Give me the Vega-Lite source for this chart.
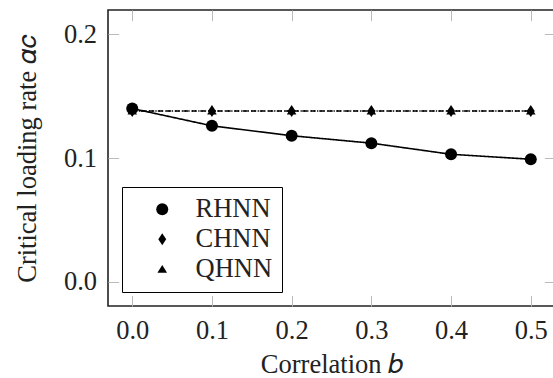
{
  "$schema": "https://vega.github.io/schema/vega-lite/v6.json",
  "width": 447,
  "height": 296,
  "autosize": {"type": "none"},
  "padding": {"left": 108, "top": 10, "right": 0, "bottom": 72},
  "background": "white",
  "data": {
    "values": [
      {"series": "QHNN", "b": 0.0, "alpha": 0.138},
      {"series": "QHNN", "b": 0.1, "alpha": 0.138},
      {"series": "QHNN", "b": 0.2, "alpha": 0.138},
      {"series": "QHNN", "b": 0.3, "alpha": 0.138},
      {"series": "QHNN", "b": 0.4, "alpha": 0.138},
      {"series": "QHNN", "b": 0.5, "alpha": 0.138},
      {"series": "CHNN", "b": 0.0, "alpha": 0.138},
      {"series": "CHNN", "b": 0.1, "alpha": 0.138},
      {"series": "CHNN", "b": 0.2, "alpha": 0.138},
      {"series": "CHNN", "b": 0.3, "alpha": 0.138},
      {"series": "CHNN", "b": 0.4, "alpha": 0.138},
      {"series": "CHNN", "b": 0.5, "alpha": 0.138},
      {"series": "RHNN", "b": 0.0, "alpha": 0.140},
      {"series": "RHNN", "b": 0.1, "alpha": 0.126},
      {"series": "RHNN", "b": 0.2, "alpha": 0.118},
      {"series": "RHNN", "b": 0.3, "alpha": 0.112},
      {"series": "RHNN", "b": 0.4, "alpha": 0.103},
      {"series": "RHNN", "b": 0.5, "alpha": 0.099}
    ]
  },
  "resolve": {"axis": {"x": "independent", "y": "independent"}},
  "layer": [
    {
      "mark": {"type": "line", "color": "black", "strokeWidth": 1.6},
      "encoding": {
        "x": {
          "field": "b", "type": "quantitative",
          "scale": {"domain": [-0.0304, 0.5304], "nice": false, "zero": false},
          "axis": {
            "orient": "bottom", "values": [0, 0.1, 0.2, 0.3, 0.4, 0.5], "format": ".1f",
            "title": "Correlation 𝑏", "grid": false, "domain": false,
            "tickSize": -10.6, "tickColor": "#bbbbbb", "tickWidth": 1,
            "labelFont": "Liberation Serif", "labelFontSize": 26.5, "labelColor": "#222", "labelPadding": 22,
            "titleFont": "Liberation Serif", "titleFontSize": 26.5, "titleFontWeight": "normal", "titleColor": "#222", "titlePadding": 8
          }
        },
        "y": {
          "field": "alpha", "type": "quantitative",
          "scale": {"domain": [-0.0196, 0.2196], "nice": false, "zero": false},
          "axis": {
            "orient": "left", "values": [0, 0.1, 0.2], "format": ".1f",
            "title": "Critical loading rate 𝛼𝑐", "grid": false, "domain": false,
            "tickSize": -10.6, "tickColor": "#bbbbbb", "tickWidth": 1,
            "labelFont": "Liberation Serif", "labelFontSize": 26.5, "labelColor": "#222", "labelPadding": 22,
            "titleFont": "Liberation Serif", "titleFontSize": 26.5, "titleFontWeight": "normal", "titleColor": "#222", "titlePadding": 22
          }
        },
        "detail": {"field": "series", "type": "nominal"},
        "strokeDash": {
          "field": "series", "type": "nominal",
          "scale": {"domain": ["QHNN", "CHNN", "RHNN"], "range": [[5, 3.5], [1.3, 2], [1, 0]]},
          "legend": null
        }
      }
    },
    {
      "mark": {"type": "point", "filled": true, "color": "black", "opacity": 1, "size": 144},
      "encoding": {
        "x": {
          "field": "b", "type": "quantitative",
          "axis": {"orient": "top", "values": [0, 0.1, 0.2, 0.3, 0.4, 0.5], "labels": false, "title": null, "grid": false, "domain": false, "tickSize": -10.6, "tickColor": "#bbbbbb", "tickWidth": 1}
        },
        "y": {
          "field": "alpha", "type": "quantitative",
          "axis": {"orient": "right", "values": [0, 0.1, 0.2], "labels": false, "title": null, "grid": false, "domain": false, "tickSize": -10.6, "tickColor": "#bbbbbb", "tickWidth": 1}
        },
        "shape": {
          "field": "series", "type": "nominal",
          "scale": {"domain": ["RHNN", "CHNN", "QHNN"], "range": ["circle", "M0,-1L0.66,0L0,1L-0.66,0Z", "M0,-0.7L0.8,0.6L-0.8,0.6Z"]},
          "legend": {
            "title": null, "orient": "none", "legendX": 14, "legendY": 177,
            "strokeColor": "black", "fillColor": "white", "padding": 9,
            "labelFont": "Liberation Serif", "labelFontSize": 26.5, "labelColor": "#222",
            "symbolSize": 144, "symbolOffset": 18, "labelOffset": 20, "rowPadding": 3,
            "symbolFillColor": "black", "symbolStrokeColor": "black",
            "encode": {
              "legend": {"strokeWidth": {"value": 1.5}}
            }
          }
        }
      }
    }
  ],
  "config": {
    "view": {"stroke": "#222", "strokeWidth": 1.6},
    "font": "Liberation Serif"
  }
}
